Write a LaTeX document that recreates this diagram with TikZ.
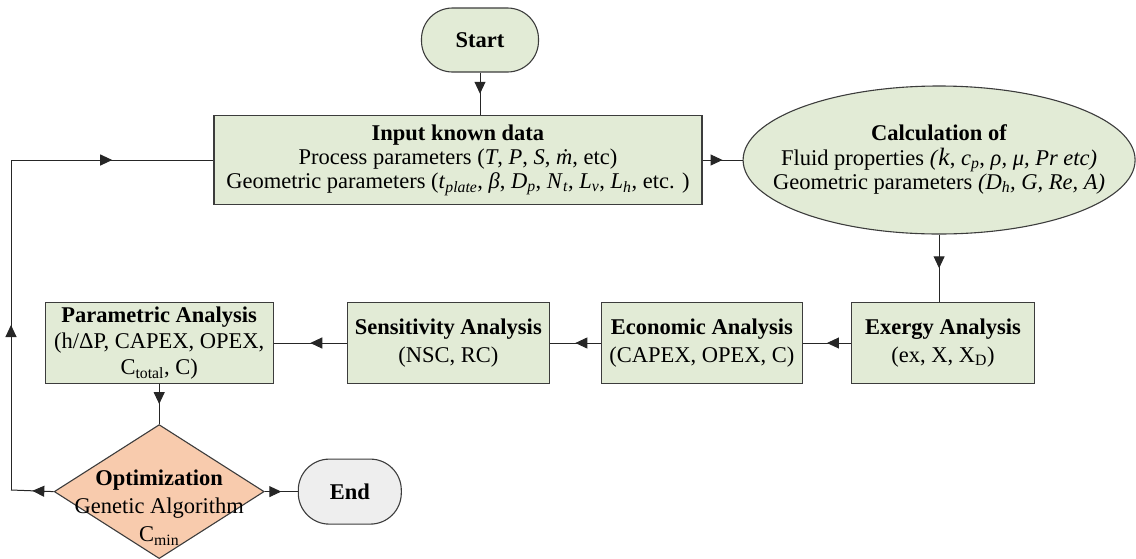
\documentclass[tikz,border=0pt]{standalone}
\usepackage{fontspec}
\setmainfont{Liberation Serif}
\usetikzlibrary{arrows.meta,positioning,shapes.geometric,decorations.markings}
\definecolor{stepgreen}{HTML}{E2EBD6}
\definecolor{optorange}{HTML}{F8CBAD}
\definecolor{endgrey}{HTML}{EEEEEE}
\definecolor{edgegrey}{HTML}{3C3C3C}

\begin{document}
\begin{tikzpicture}[
  x=1pt, y=-1pt,
  font=\fontsize{22.5}{24}\selectfont,
  stepbox/.style={draw=edgegrey, fill=stepgreen, line width=1.1pt, align=center,
    inner sep=0pt},
  terminal/.style={stepbox, rounded corners=31pt},
  flow/.style={line width=1pt, draw=black!85, postaction={decorate},
    decoration={markings, mark=at position 0.5 with
      {\arrow{Triangle[length=12pt,width=11pt]}}}}
]
\useasboundingbox (0,0) rectangle (1136,558);

% top: start, input data and property calculation
\node[terminal, minimum width=117pt, minimum height=64pt] (start) at (480,40)
  {\textbf{Start}};
\node[stepbox, minimum width=488pt, minimum height=89pt] (input) at (458,160)
  {\textbf{Input known data}\\
   Process parameters (\textit{T}, \textit{P}, \textit{S}, \textit{ṁ}, etc)\\
   Geometric parameters (\textit{t}\textsubscript{\textit{plate}}, \textit{β},
   \textit{D}\textsubscript{\textit{p}}, \textit{N}\textsubscript{\textit{t}},
   \textit{L}\textsubscript{\textit{v}}, \textit{L}\textsubscript{\textit{h}}, etc. )};
\node[stepbox, ellipse, minimum width=392pt, minimum height=148pt,
  right=40pt of input] (calc) {};
\node[align=center] (calcText) at ([yshift=1pt]calc.center)
  {\textbf{Calculation of}\\[1pt]
   Fluid properties \textit{(}{\fontsize{25}{24}\selectfont\textit{k}},
   \textit{c}\textsubscript{\textit{p}}, \textit{ρ, μ, Pr etc)}\\
   Geometric parameters \textit{(D}\textsubscript{\textit{h}}\textit{, G, Re, A)}};

% analysis chain, right to left
\node[stepbox, minimum width=183pt, minimum height=81pt] (exergy) at (943,343)
  {\textbf{Exergy Analysis}\\[4pt](ex, X, X\textsubscript{D})};
\node[stepbox, minimum width=201pt, minimum height=81pt, left=48pt of exergy] (econ)
  {\textbf{Economic Analysis}\\[4pt](CAPEX, OPEX, C)};
\node[stepbox, minimum width=202pt, minimum height=81pt, left=51pt of econ] (sens)
  {\textbf{Sensitivity Analysis}\\[4pt](NSC, RC)};
\node[stepbox, minimum width=228pt, minimum height=81pt, left=73pt of sens] (param)
  {\textbf{Parametric Analysis}\\[2pt](h/ΔP, CAPEX, OPEX,\\[2pt]C\textsubscript{total}, C)};

% optimisation and end
\node[stepbox, diamond, fill=optorange, minimum width=210pt, minimum height=134pt,
  below=40pt of param] (opt) {};
\node[align=center, font=\fontsize{22.5}{28}\selectfont] (optText)
  at ([yshift=-16pt]opt.center)
  {\textbf{Optimization}\\Genetic Algorithm\\C\textsubscript{min}};
\node[terminal, fill=endgrey, minimum width=103pt, minimum height=65pt,
  right=33pt of opt] (end) {\textbf{End}};

\coordinate (fbL) at (11,490);
\coordinate (fbT) at (fbL |- input.west);

\draw[flow] (start) -- (start |- input.north);
\draw[flow] (input) -- (calc);
\draw[flow] (calc.south) -- (calc.south |- exergy.north);
\draw[flow] (exergy) -- (econ);
\draw[flow] (econ) -- (sens);
\draw[flow] (sens) -- (param);
\draw[flow] (param) -- (opt);
\draw[flow] (opt) -- (end);
\draw[flow] (opt.west) -- (fbL);
\draw[flow] (fbL) -- (fbT);
\draw[flow] (fbT) -- (input.west);
\end{tikzpicture}
\end{document}
